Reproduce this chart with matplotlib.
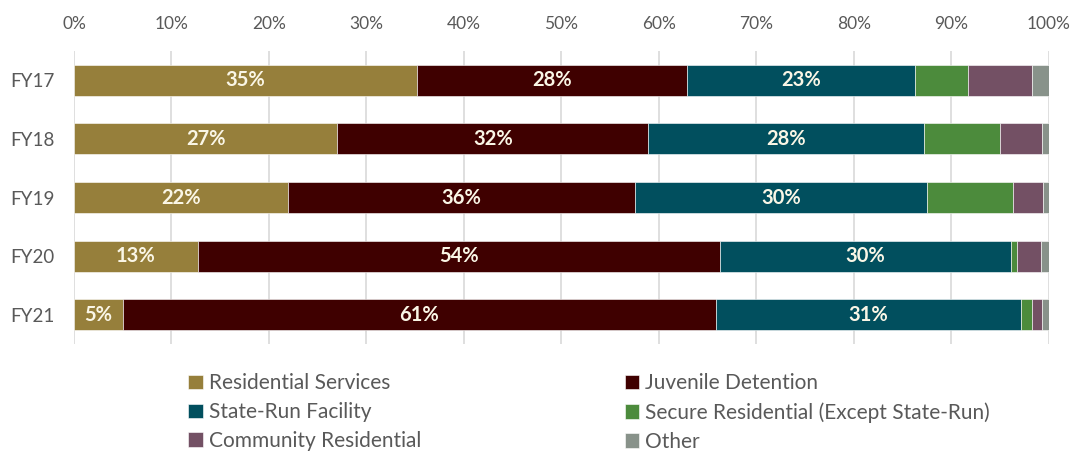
import numpy as np
import matplotlib.pyplot as plt

plt.rcParams['font.family'] = ['Lato', 'DejaVu Sans']

years = ['FY17', 'FY18', 'FY19', 'FY20', 'FY21']
categories = ['Residential Services', 'Juvenile Detention', 'State-Run Facility',
              'Secure Residential (Except State-Run)', 'Community Residential', 'Other']
residential = [35.2, 27.0, 22.0, 12.7, 5.0]
juvenile = [27.7, 31.9, 35.5, 53.6, 60.8]
state_run = [23.4, 28.3, 30.0, 29.8, 31.3]
secure = [5.4, 7.8, 8.8, 0.6, 1.2]
community = [6.6, 4.25, 3.05, 2.45, 0.95]
other = [1.7, 0.75, 0.65, 0.85, 0.75]

series = [residential, juvenile, state_run, secure, community, other]
colors = ['#967F3B', '#3F0000', '#014F5E', '#4C8B3C', '#735064', '#88928A']
labelled = [True, True, True, False, False, False]

fig = plt.figure(figsize=(10.75, 4.51), dpi=100)
ax = fig.add_axes([0.0688, 0.237, 0.907, 0.650])

y = np.arange(len(years))
left = np.zeros(len(years))
handles = []
for vals, col, name, lab in zip(series, colors, categories, labelled):
    vals = np.array(vals)
    bars = ax.barh(y, vals, left=left, height=0.53, color=col,
                   edgecolor='white', linewidth=0.4, label=name, zorder=2)
    handles.append(bars)
    if lab:
        for xi, yi, v in zip(left + vals / 2, y, vals):
            ax.text(xi, yi, f'{round(v):.0f}%', ha='center', va='center',
                    color='#FAF6E6', fontsize=14.5, fontweight='bold', zorder=3)
    left += vals

ax.set_xlim(0, 100)
ax.set_ylim(len(years) - 0.5, -0.5)
ax.set_yticks(y)
ax.set_yticklabels(years)
ax.set_xticks(np.arange(0, 101, 10))
ax.set_xticklabels([f'{t}%' for t in range(0, 101, 10)])
ax.xaxis.tick_top()
ax.tick_params(axis='x', length=0, labelsize=12.5, colors='#595959', pad=14)
ax.tick_params(axis='y', length=0, labelsize=13.5, colors='#595959', pad=14)
ax.grid(axis='x', color='#D9D9D9', linewidth=1.2, zorder=0)
ax.set_axisbelow(True)
for s in ax.spines.values():
    s.set_visible(False)

# two single-column legends so each column sits at a fixed x
leg_kw = dict(loc='upper left', ncol=1, frameon=False, fontsize=15,
              handlelength=0.7, handleheight=0.7, handletextpad=0.3,
              labelspacing=0.42, borderaxespad=0, borderpad=0)
for idx, x0 in [([0, 2, 4], 0.175), ([1, 3, 5], 0.581)]:
    leg = fig.legend([handles[i] for i in idx], [categories[i] for i in idx],
                     bbox_to_anchor=(x0, 0.172), **leg_kw)
    for t in leg.get_texts():
        t.set_color('#595959')

fig.savefig('out.png', dpi=100)
